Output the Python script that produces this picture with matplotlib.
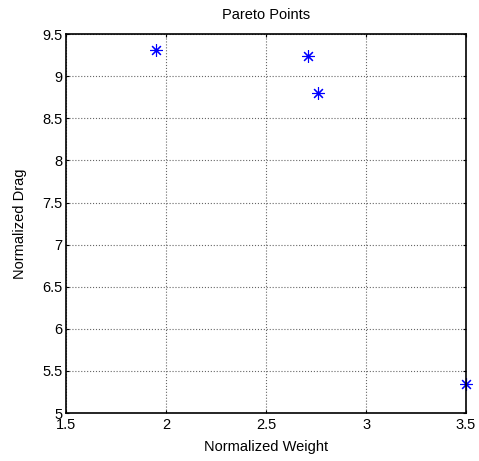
import matplotlib
matplotlib.use("Agg")
import matplotlib.pyplot as plt

plt.rcParams['font.family'] = ['Liberation Sans', 'DejaVu Sans']

# Pareto points
weight = [1.95, 2.71, 2.76, 3.50]
drag = [9.31, 9.24, 8.80, 5.34]

x_ticks = [1.5, 2, 2.5, 3, 3.5]
y_ticks = [5, 5.5, 6, 6.5, 7, 7.5, 8, 8.5, 9, 9.5]

fig = plt.figure(figsize=(4.79, 4.61), dpi=100)
ax = fig.add_axes([0.138, 0.104, 0.835, 0.822])

ax.plot(weight, drag, linestyle='none', marker=(8, 2, 0), markersize=9,
        markeredgewidth=0.8, color='blue', clip_on=False)

ax.set_xlim(1.5, 3.5)
ax.set_ylim(5, 9.5)
ax.set_xticks(x_ticks)
ax.set_xticklabels([f"{t:g}" for t in x_ticks])
ax.set_yticks(y_ticks)
ax.set_yticklabels([f"{t:g}" for t in y_ticks])

ax.grid(True, linestyle=':', color='#666666', linewidth=0.8)
ax.tick_params(direction='in', top=True, right=True, labelsize=10.5, length=2.5)
ax.tick_params(axis='x', pad=3.5)
ax.tick_params(axis='y', pad=2.5)
for s in ax.spines.values():
    s.set_linewidth(1.2)

ax.set_title("Pareto Points", fontsize=10.5, pad=11)
ax.set_xlabel("Normalized Weight", fontsize=10.5, labelpad=6)
ax.set_ylabel("Normalized Drag", fontsize=10.5, labelpad=11)

fig.savefig("out.png", dpi=100)
